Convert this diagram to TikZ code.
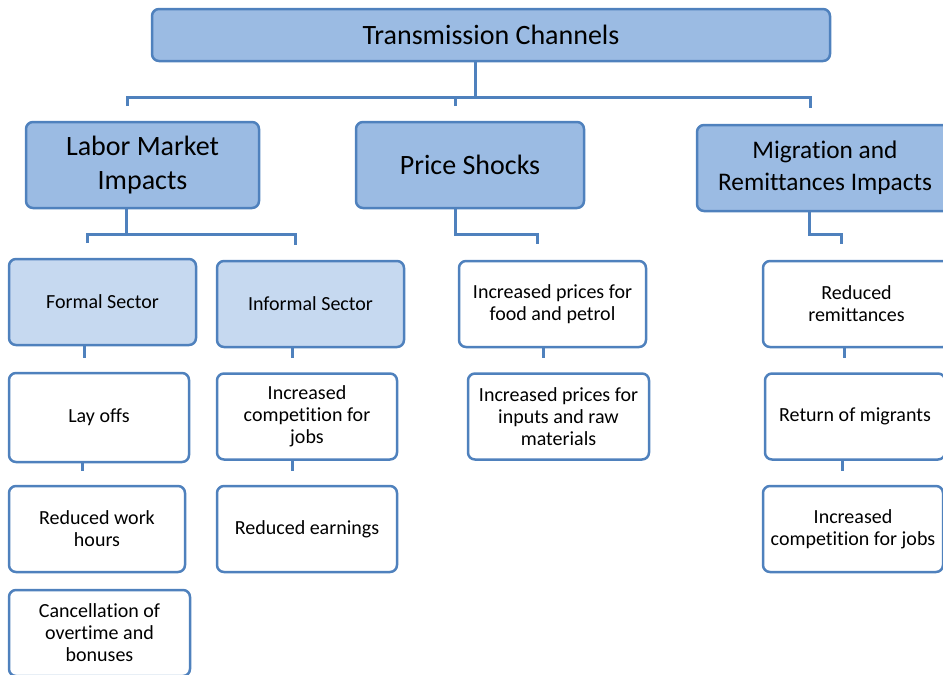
\documentclass[tikz,border=0pt]{standalone}
\usepackage{fontspec}
\setmainfont{Carlito}[Ligatures=NoCommon]
\usepackage{xcolor}
\usepackage{tikz}
\definecolor{edge}{HTML}{4F81BD}
\definecolor{head}{HTML}{9BBBE3}
\definecolor{sub}{HTML}{C6D9F0}
\definecolor{ink}{HTML}{000000}
\newdimen\px \px=0.75pt

\begin{document}
\begin{tikzpicture}[
  x=0.75pt, y=-0.75pt,
  card/.style={draw=edge, line width=2.5\px, rounded corners=7\px, align=center, text=ink, inner sep=0pt, minimum height=86\px},
  big/.style={card, fill=head, font=\fontsize{21}{25}\selectfont},
  mid/.style={card, fill=sub, font=\fontsize{15}{16.5}\selectfont, minimum width=187\px},
  leaf/.style={card, fill=white, font=\fontsize{15}{16.5}\selectfont, minimum width=180\px},
  link/.style={draw=edge, line width=3\px}
]
  \useasboundingbox (0,0) rectangle (943,675);
  \clip (0,0) rectangle (943,675);

  % level 1 and 2
  \node[big, minimum width=678\px, minimum height=52\px] (top) at (491,35) {Transmission Channels};
  \node[big, minimum width=233\px] (labor) at (142.5,165) {Labor Market\\Impacts};
  \node[big, minimum width=228\px] (price) at (470,165) {Price Shocks};
  \node[big, minimum width=256\px, font=\fontsize{19}{24}\selectfont] (migr) at (825,168) {Migration and\\Remittances Impacts};

  % level 3
  \node[mid] (formal) at (102.5,302) {Formal Sector};
  \node[mid] (informal) at (310.5,304) {Informal Sector};
  \node[leaf, minimum width=187\px] (food) at (552.5,304) {Increased prices for\\food and petrol};
  \node[leaf, minimum width=187\px] (remit) at (856.5,304) {Reduced\\remittances};

  % lower rows
  \node[leaf, minimum height=89\px] (layoff) at (99,417.5) {Lay offs};
  \node[leaf] (compete) at (307,416.5) {Increased\\competition for\\jobs};
  \node[leaf, minimum width=181\px] (inputs) at (558.5,416.5) {Increased prices for\\inputs and raw\\materials};
  \node[leaf] (return) at (855,416.5) {Return of migrants};
  \node[leaf, minimum width=176\px] (hours) at (97,529) {Reduced work\\hours};
  \node[leaf] (earn) at (307,529) {Reduced earnings};
  \node[leaf] (jobs) at (853,529) {Increased\\competition for jobs};
  \node[leaf, minimum width=181\px] (cancel) at (99.5,633) {Cancellation of\\overtime and\\bonuses};

  % top bus
  \coordinate (tl) at (127,106);
  \coordinate (tm) at (455,106);
  \coordinate (tr) at (810,108);
  \draw[link] ([xshift=-16\px]top.south) -- ++(0,35) coordinate (bus);
  \draw[link] (tl) |- (bus) -| (tr);
  \draw[link] (tm) -- (tm |- bus);

  % second level buses
  \coordinate (tf) at (87,243);
  \coordinate (ti) at (295,245);
  \draw[link] ([xshift=-16\px]labor.south) -- ++(0,25) coordinate (lbus);
  \draw[link] (tf) |- (lbus) -| (ti);
  \coordinate (tp) at (537,244);
  \draw[link] ([xshift=-15\px]price.south) -- ++(0,25) -| (tp);
  \coordinate (tq) at (841,244);
  \draw[link] ([xshift=-16\px]migr.south) -- ++(0,22) -| (tq);

  % short stubs under boxes
  \foreach \n/\d/\l in {formal/-18/12, informal/-18/10, food/-9/10, remit/-12/10, layoff/-17/8, compete/-15/10, return/-13/10}
    \draw[link] ([xshift=\d\px]\n.south) -- ++(0,\l);
\end{tikzpicture}
\end{document}
